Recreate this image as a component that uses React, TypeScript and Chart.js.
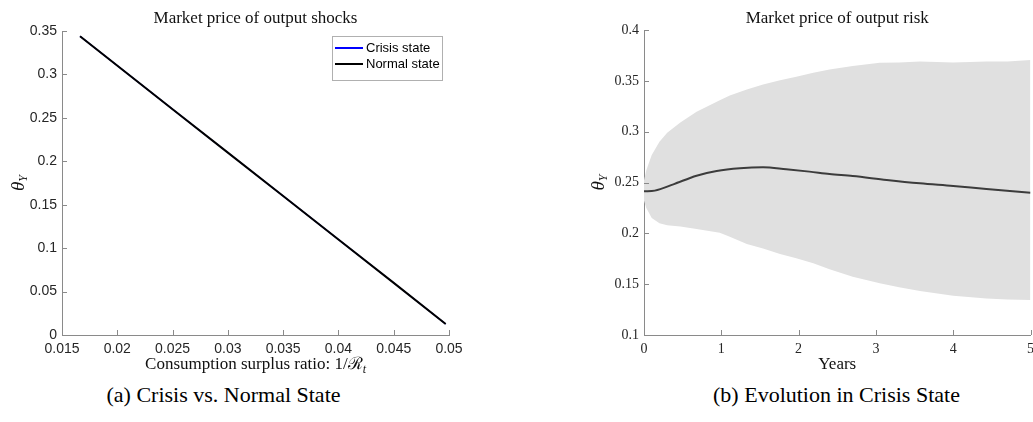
import React, { useEffect, useRef } from "react";
import { Chart, registerables } from "chart.js";

Chart.register(...registerables);

// ---------- Panel (a): Market price of output shocks ----------
const surplusRatio = [0.01663, 0.025, 0.03, 0.035, 0.04, 0.045, 0.0497];
const thetaCrisis = [0.344, 0.26, 0.21, 0.16, 0.11, 0.06, 0.0127];
const thetaNormal = [0.344, 0.26, 0.21, 0.16, 0.11, 0.06, 0.0127];
const leftXTicks = [0.015, 0.02, 0.025, 0.03, 0.035, 0.04, 0.045, 0.05];
const leftXTickLabels = ["0.015", "0.02", "0.025", "0.03", "0.035", "0.04", "0.045", "0.05"];
const leftYTicks = [0, 0.05, 0.1, 0.15, 0.2, 0.25, 0.3, 0.35];
const leftYTickLabels = ["0", "0.05", "0.1", "0.15", "0.2", "0.25", "0.3", "0.35"];
const seriesLabels = ["Crisis state", "Normal state"];

// ---------- Panel (b): Market price of output risk ----------
const medianYears = [0, 0.14, 0.38, 0.68, 0.94, 1.24, 1.54, 1.84, 2.14, 2.4, 2.7, 3.14, 3.57, 4.0, 4.43, 5.0];
const medianTheta = [0.2413, 0.242, 0.2482, 0.2567, 0.2613, 0.264, 0.265, 0.263, 0.2607, 0.2584, 0.2564, 0.2525, 0.2492, 0.2466, 0.2436, 0.24];
const bandYears = [0, 0.03, 0.1, 0.2, 0.3, 0.47, 0.68, 0.98, 1.11, 1.33, 1.54, 1.76, 1.97, 2.19, 2.4, 2.7, 3.05, 3.3, 3.57, 4.0, 4.43, 4.7, 5.0];
const bandUpper = [0.252, 0.262, 0.277, 0.29, 0.299, 0.309, 0.3195, 0.331, 0.3355, 0.3415, 0.3465, 0.3505, 0.354, 0.358, 0.3612, 0.3646, 0.3678, 0.368, 0.369, 0.368, 0.369, 0.369, 0.3705];
const bandLower = [0.232, 0.225, 0.215, 0.21, 0.208, 0.2066, 0.2043, 0.2006, 0.1967, 0.1895, 0.1852, 0.1797, 0.1754, 0.1705, 0.1646, 0.1574, 0.1508, 0.147, 0.1433, 0.1387, 0.136, 0.135, 0.1344];
const rightXTicks = [0, 1, 2, 3, 4, 5];
const rightXTickLabels = ["0", "1", "2", "3", "4", "5"];
const rightYTicks = [0.1, 0.15, 0.2, 0.25, 0.3, 0.35, 0.4];
const rightYTickLabels = ["0.1", "0.15", "0.2", "0.25", "0.3", "0.35", "0.4"];

const AXIS_COLOR = "#8a8a8a";
const TEXT_COLOR = "#262626";
const SERIF = "'Liberation Serif', 'Times New Roman', serif";
const SANS = "'Liberation Sans', Arial, Helvetica, sans-serif";

type Run = { t: string; font: string; dy?: number };

function drawRuns(ctx: CanvasRenderingContext2D, runs: Run[], x: number, y: number, rotate: boolean) {
  ctx.save();
  ctx.translate(x, y);
  if (rotate) ctx.rotate(-Math.PI / 2);
  ctx.textAlign = "left";
  ctx.textBaseline = "alphabetic";
  ctx.fillStyle = "#111";
  let total = 0;
  const widths = runs.map((r) => {
    ctx.font = r.font;
    const w = ctx.measureText(r.t).width;
    total += w;
    return w;
  });
  let cx = -total / 2;
  runs.forEach((r, i) => {
    ctx.font = r.font;
    ctx.fillText(r.t, cx, r.dy || 0);
    cx += widths[i];
  });
  ctx.restore();
}

const overlayPlugin = {
  id: "overlay",
  afterDraw(chart: any, _args: any, opts: any) {
    const ctx: CanvasRenderingContext2D = chart.ctx;
    const area = chart.chartArea;
    const xs = chart.scales.x;
    const ys = chart.scales.y;
    ctx.save();
    // inward tick marks (MATLAB style)
    ctx.strokeStyle = AXIS_COLOR;
    ctx.lineWidth = 1;
    ctx.beginPath();
    xs.ticks.forEach((t: any) => {
      const px = Math.round(xs.getPixelForValue(t.value)) + 0.5;
      ctx.moveTo(px, area.bottom);
      ctx.lineTo(px, area.bottom - 5);
    });
    ys.ticks.forEach((t: any) => {
      const py = Math.round(ys.getPixelForValue(t.value)) + 0.5;
      ctx.moveTo(area.left, py);
      ctx.lineTo(area.left + 5, py);
    });
    ctx.stroke();
    ctx.restore();

    // axis titles
    const cxArea = (area.left + area.right) / 2;
    const cyArea = (area.top + area.bottom) / 2;
    drawRuns(ctx, opts.xTitle, cxArea, area.bottom + opts.xTitleOffset, false);
    drawRuns(ctx, opts.yTitle, area.left - opts.yTitleOffset, cyArea, true);

    // legend box
    if (opts.legend) {
      const L = opts.legend;
      ctx.save();
      ctx.fillStyle = "#fff";
      ctx.fillRect(L.x, L.y, L.w, L.h);
      ctx.strokeStyle = "#b0b0b0";
      ctx.lineWidth = 1;
      ctx.strokeRect(L.x + 0.5, L.y + 0.5, L.w, L.h);
      ctx.font = `13px ${SANS}`;
      ctx.textBaseline = "middle";
      ctx.textAlign = "left";
      chart.data.datasets.forEach((ds: any, i: number) => {
        const yy = L.y + L.firstRow + i * L.rowGap;
        ctx.strokeStyle = ds.borderColor;
        ctx.lineWidth = 2;
        ctx.beginPath();
        ctx.moveTo(L.x + 3, yy);
        ctx.lineTo(L.x + 31, yy);
        ctx.stroke();
        ctx.fillStyle = "#000";
        ctx.fillText(ds.label, L.x + 34, yy);
      });
      ctx.restore();
    }
  },
};

function makeScale(
  ticks: number[],
  labels: string[],
  min: number,
  max: number,
  font: any,
  padding: number,
  fitSize: number,
  horizontal: boolean
) {
  return {
    type: "linear",
    min,
    max,
    grid: { display: false, drawTicks: false },
    border: { display: true, color: AXIS_COLOR, width: 1 },
    afterBuildTicks: (scale: any) => {
      scale.ticks = ticks.map((v) => ({ value: v }));
    },
    afterFit: (scale: any) => {
      if (horizontal) scale.height = fitSize;
      else scale.width = fitSize;
    },
    ticks: {
      autoSkip: false,
      maxRotation: 0,
      minRotation: 0,
      padding,
      color: TEXT_COLOR,
      font,
      callback: (v: number) => {
        const idx = ticks.findIndex((t) => Math.abs(t - v) < 1e-9);
        return idx >= 0 ? labels[idx] : "";
      },
    },
  };
}

function leftConfig(): any {
  return {
    type: "line",
    data: {
      datasets: [
        {
          label: seriesLabels[0],
          data: surplusRatio.map((x, i) => ({ x, y: thetaCrisis[i] })),
          borderColor: "#0000ff",
          borderWidth: 1.2,
          pointRadius: 0,
          fill: false,
          order: 1,
        },
        {
          label: seriesLabels[1],
          data: surplusRatio.map((x, i) => ({ x, y: thetaNormal[i] })),
          borderColor: "#000000",
          borderWidth: 2,
          pointRadius: 0,
          fill: false,
          order: 0,
        },
      ],
    },
    options: {
      responsive: false,
      animation: false,
      layout: { padding: { left: 0, right: 31, top: 0, bottom: 0 } },
      scales: {
        x: makeScale(leftXTicks, leftXTickLabels, 0.015, 0.05, { family: SANS, size: 14 }, 6, 45, true),
        y: makeScale(leftYTicks, leftYTickLabels, 0, 0.35, { family: SANS, size: 14 }, 5, 62, false),
      },
      plugins: {
        legend: { display: false },
        tooltip: { enabled: false },
        title: {
          display: true,
          text: "Market price of output shocks",
          fullSize: false,
          color: "#111",
          font: { family: SERIF, size: 17, weight: "normal", lineHeight: 1 },
          padding: { top: 10, bottom: 4 },
        },
        overlay: {
          xTitle: [
            { t: "Consumption surplus ratio: 1/", font: `17px ${SERIF}` },
            { t: "\u211B", font: `17px ${SERIF}` },
            { t: "t", font: `italic 12px ${SERIF}`, dy: 4 },
          ],
          xTitleOffset: 34,
          yTitle: [
            { t: "\u03B8", font: `italic 19px ${SERIF}` },
            { t: "Y", font: `italic 12px ${SERIF}`, dy: 3 },
          ],
          yTitleOffset: 38,
          legend: { x: 332, y: 36, w: 110, h: 44, firstRow: 12, rowGap: 16 },
        },
      },
    },
    plugins: [overlayPlugin],
  };
}

function rightConfig(): any {
  return {
    type: "line",
    data: {
      datasets: [
        {
          label: "Upper band",
          data: bandYears.map((x, i) => ({ x, y: bandUpper[i] })),
          borderWidth: 0,
          borderColor: "rgba(0,0,0,0)",
          backgroundColor: "#e0e0e0",
          pointRadius: 0,
          fill: "+1",
          order: 2,
        },
        {
          label: "Lower band",
          data: bandYears.map((x, i) => ({ x, y: bandLower[i] })),
          borderWidth: 0,
          borderColor: "rgba(0,0,0,0)",
          pointRadius: 0,
          fill: false,
          order: 3,
        },
        {
          label: "Median",
          data: medianYears.map((x, i) => ({ x, y: medianTheta[i] })),
          borderColor: "#3c3c3c",
          borderWidth: 2,
          pointRadius: 0,
          cubicInterpolationMode: "monotone",
          fill: false,
          order: 0,
        },
      ],
    },
    options: {
      responsive: false,
      animation: false,
      layout: { padding: { left: 0, right: 9, top: 0, bottom: 0 } },
      scales: {
        x: makeScale(rightXTicks, rightXTickLabels, 0, 5, { family: SERIF, size: 14 }, 6, 45, true),
        y: makeScale(rightYTicks, rightYTickLabels, 0.1, 0.4, { family: SERIF, size: 14 }, 5, 124, false),
      },
      plugins: {
        legend: { display: false },
        tooltip: { enabled: false },
        title: {
          display: true,
          text: "Market price of output risk",
          fullSize: false,
          color: "#111",
          font: { family: SERIF, size: 17, weight: "normal", lineHeight: 1 },
          padding: { top: 10, bottom: 3 },
        },
        overlay: {
          xTitle: [{ t: "Years", font: `17px ${SERIF}` }],
          xTitleOffset: 34,
          yTitle: [
            { t: "\u03B8", font: `italic 19px ${SERIF}` },
            { t: "Y", font: `italic 12px ${SERIF}`, dy: 3 },
          ],
          yTitleOffset: 40,
        },
      },
    },
    plugins: [overlayPlugin],
  };
}

export default function App() {
  const leftRef = useRef<HTMLCanvasElement>(null);
  const rightRef = useRef<HTMLCanvasElement>(null);

  useEffect(() => {
    const left = new Chart(leftRef.current as HTMLCanvasElement, leftConfig());
    const right = new Chart(rightRef.current as HTMLCanvasElement, rightConfig());
    return () => {
      left.destroy();
      right.destroy();
    };
  }, []);

  const captionStyle: React.CSSProperties = {
    position: "absolute",
    top: 383,
    textAlign: "center",
    font: `22px ${SERIF}`,
    lineHeight: "24px",
    color: "#000",
    whiteSpace: "nowrap",
  };

  return (
    <div
      style={{
        position: "fixed",
        left: 0,
        top: 0,
        width: 1033,
        height: 422,
        overflow: "hidden",
        background: "#fff",
      }}
    >
      <canvas ref={leftRef} width={480} height={380} style={{ position: "absolute", left: 0, top: 0 }} />
      <canvas ref={rightRef} width={520} height={380} style={{ position: "absolute", left: 520, top: 0 }} />
      <div style={{ ...captionStyle, left: 0, width: 447 }}>(a) Crisis vs. Normal State</div>
      <div style={{ ...captionStyle, left: 640, width: 393 }}>(b) Evolution in Crisis State</div>
    </div>
  );
}
